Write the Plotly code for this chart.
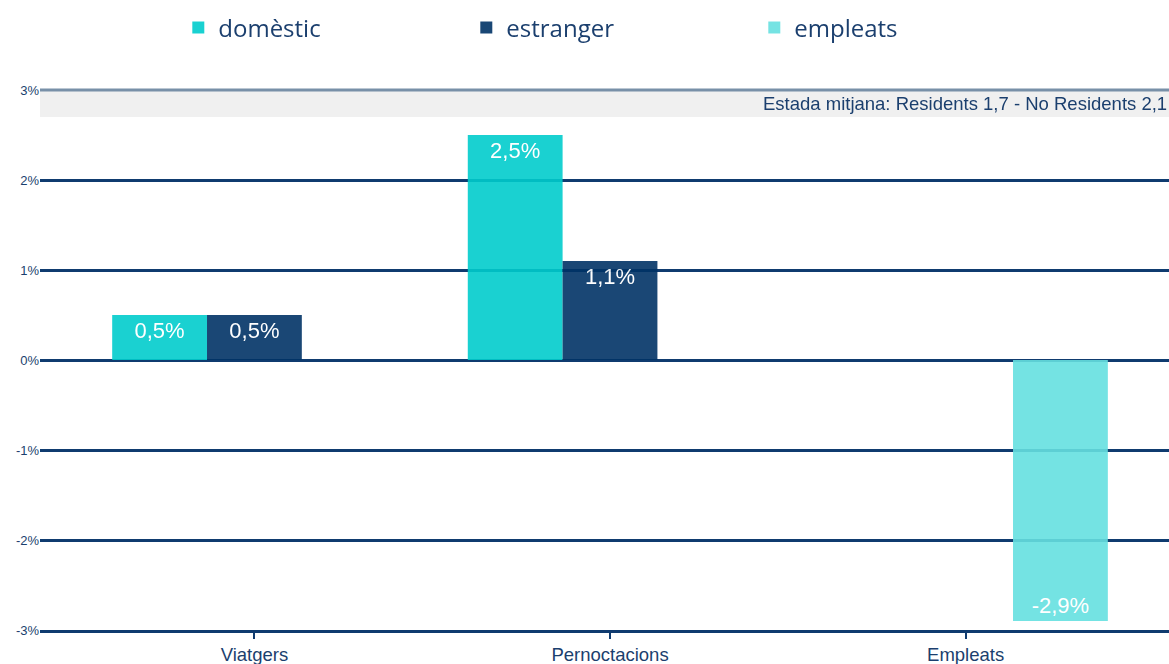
import plotly.graph_objects as go

categories = ["Viatgers", "Pernoctacions", "Empleats"]
domestic = [0.5, 2.5, None]
estranger = [0.5, 1.1, None]
empleats = [None, None, -2.9]
y_ticks = [-3, -2, -1, 0, 1, 2, 3]
y_tick_text = ["-3%", "-2%", "-1%", "0%", "1%", "2%", "3%"]
note = "Estada mitjana: Residents 1,7 - No Residents 2,1"

NAVY = "#1b3f6e"
GRID = "#0f3b6f"


def labels(vals):
    return ["" if v is None else (f"{v:.1f}".replace(".", ",") + "%") for v in vals]


series = [
    ("domèstic", domestic, "#00CCCC"),
    ("estranger", estranger, "#003366"),
    ("empleats", empleats, "#66E0E0"),
]

fig = go.Figure()
for name, vals, col in series:
    fig.add_trace(go.Bar(
        x=categories, y=vals, name=name,
        marker=dict(color=col, line=dict(width=0)),
        opacity=0.9,
        text=labels(vals), textposition="inside", insidetextanchor="end",
        textangle=0, constraintext="none",
        textfont=dict(color="white", size=22, family="Liberation Sans, Arial"),
        cliponaxis=False,
    ))

# grey band and top line
fig.add_shape(type="rect", xref="paper", yref="y", x0=0, x1=1, y0=2.7, y1=3,
              fillcolor="#f0f0f0", line=dict(width=0), layer="below")
fig.add_shape(type="line", xref="paper", yref="paper", x0=0, x1=1, y0=1, y1=1,
              line=dict(color="#7890a8", width=3), layer="above")

fig.add_annotation(xref="paper", yref="y", x=1, y=2.85, xanchor="right", yanchor="middle",
                   text=note, showarrow=False,
                   font=dict(size=18.5, color=NAVY, family="Liberation Sans, Arial"))

fig.update_layout(
    width=1169, height=664,
    margin=dict(l=40, r=0, t=90, b=34, autoexpand=False),
    plot_bgcolor="white", paper_bgcolor="white",
    barmode="group", bargap=0.2, bargroupgap=0,
    showlegend=True,
    legend=dict(orientation="h", x=0.1225, xanchor="left", y=1.115, yanchor="middle",
                entrywidth=243, entrywidthmode="pixels",
                font=dict(size=24, color=NAVY, family="Open Sans"),
                bgcolor="rgba(0,0,0,0)", traceorder="normal"),
    xaxis=dict(range=[-0.603, 2.572], showgrid=False, showline=True,
               linecolor=GRID, linewidth=2.5, ticks="outside", ticklen=6,
               tickwidth=2, tickcolor=GRID,
               tickfont=dict(size=18.5, color=NAVY, family="Liberation Sans, Arial"),
               fixedrange=True),
    yaxis=dict(range=[-3, 3], tickmode="array", tickvals=y_ticks, ticktext=y_tick_text,
               showgrid=True, gridcolor=GRID, gridwidth=2.5,
               zeroline=True, zerolinecolor=GRID, zerolinewidth=2.5,
               showline=False, ticks="",
               tickfont=dict(size=13, color=NAVY, family="Liberation Sans, Arial"),
               fixedrange=True),
)

fig.write_html("out.html", config={"displayModeBar": False},
               post_script="document.body.style.margin='0';")
